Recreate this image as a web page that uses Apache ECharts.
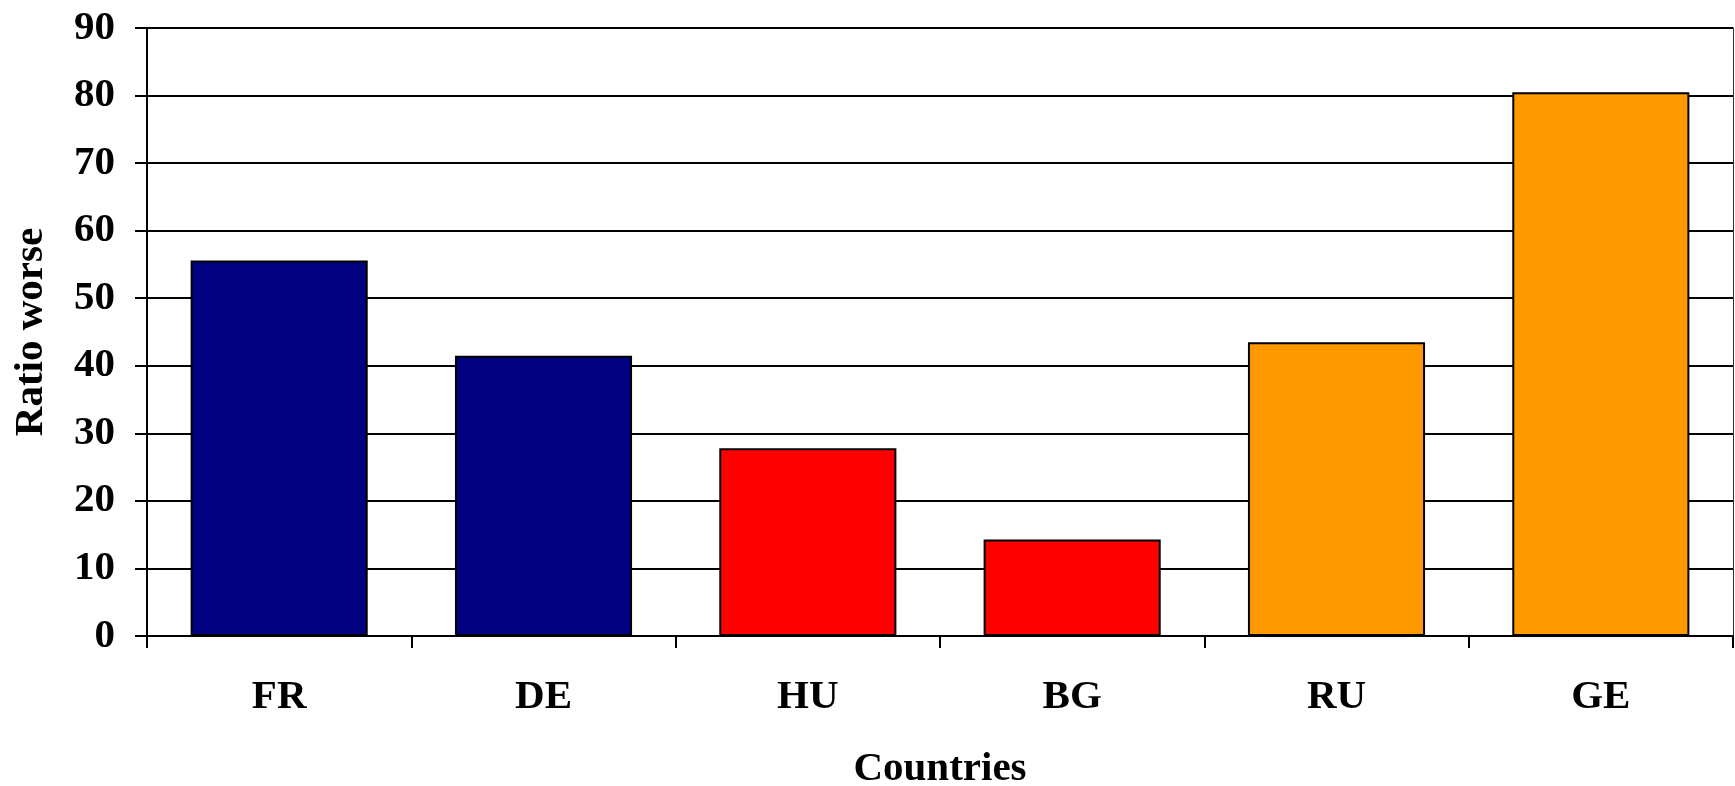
<!DOCTYPE html>
<html>
<head>
<meta charset="utf-8">
<script src="https://cdn.jsdelivr.net/npm/echarts@6/dist/echarts.min.js"></script>
<style>
  html, body { margin: 0; padding: 0; background: #fff; overflow: hidden; }
  #chart { width: 1735px; height: 786px; }
</style>
</head>
<body>
<div id="chart"></div>
<script>
// Countries and their "ratio worse" values
const countries = ['FR', 'DE', 'HU', 'BG', 'RU', 'GE'];
const ratioWorse = [55.6, 41.5, 27.8, 14.3, 43.5, 80.5];
const barColors = ['#000080', '#000080', '#FF0000', '#FF0000', '#FF9900', '#FF9900'];
const yTicks = { min: 0, max: 90, interval: 10 };

const font = 'Liberation Serif, Times New Roman, serif';
const textStyle = { fontFamily: font, fontWeight: 'bold', fontSize: 41, color: '#000' };

const chart = echarts.init(document.getElementById('chart'), null, { renderer: 'canvas' });

chart.setOption({
  animation: false,
  backgroundColor: '#fff',
  grid: {
    left: 147, right: 2, top: 28, bottom: 150,
    containLabel: false,
    outerBoundsMode: 'none'
  },
  xAxis: {
    type: 'category',
    data: countries,
    boundaryGap: true,
    name: 'Countries',
    nameLocation: 'middle',
    nameGap: 113,
    nameTextStyle: textStyle,
    axisLine: { show: true, lineStyle: { color: '#000', width: 2 } },
    axisTick: { show: true, inside: false, length: 12, interval: 0, lineStyle: { color: '#000', width: 2 } },
    axisLabel: Object.assign({ margin: 41, interval: 0 }, textStyle),
    splitLine: { show: false }
  },
  yAxis: [
    {
      type: 'value',
      min: yTicks.min,
      max: yTicks.max,
      interval: yTicks.interval,
      name: 'Ratio worse',
      nameLocation: 'middle',
      nameGap: 95,
      nameRotate: 90,
      nameTextStyle: textStyle,
      axisLine: { show: true, lineStyle: { color: '#000', width: 2 } },
      axisTick: { show: true, inside: false, length: 12, lineStyle: { color: '#000', width: 2 } },
      axisLabel: Object.assign({ margin: 32 }, textStyle),
      splitLine: { show: true, lineStyle: { color: '#000', width: 2 } }
    },
    {
      type: 'value',
      position: 'right',
      min: yTicks.min,
      max: yTicks.max,
      interval: yTicks.interval,
      axisLine: { show: true, lineStyle: { color: '#333', width: 1 } },
      axisTick: { show: false },
      axisLabel: { show: false },
      splitLine: { show: false }
    }
  ],
  series: [{
    type: 'bar',
    yAxisIndex: 0,
    barCategoryGap: '33%',
    data: ratioWorse.map((v, i) => ({
      value: v,
      itemStyle: { color: barColors[i], borderColor: '#000', borderWidth: 2 }
    }))
  }]
});
</script>
</body>
</html>
